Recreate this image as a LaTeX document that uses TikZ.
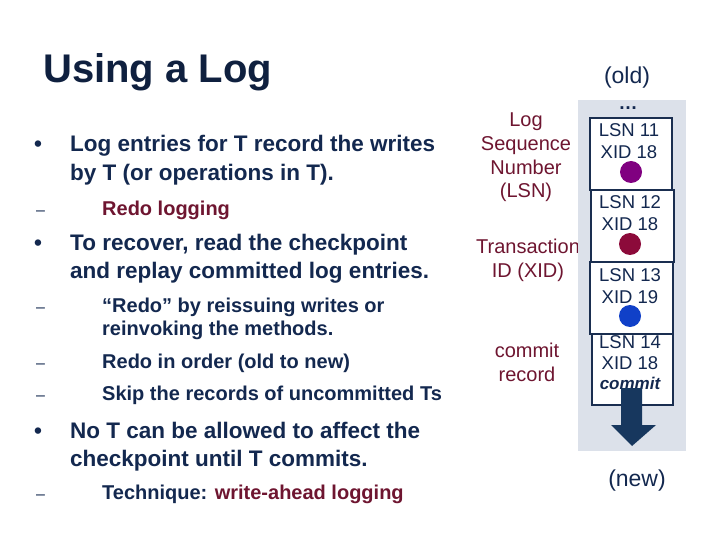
\documentclass[tikz,border=0pt]{standalone}
\usepackage{fontspec}
\setmainfont{Liberation Sans}
\definecolor{navy}{HTML}{13284F}
\definecolor{maroon}{HTML}{6E1530}
\definecolor{colbg}{HTML}{DCE1EA}
\definecolor{boxline}{HTML}{1A2E50}
\definecolor{arrowc}{HTML}{17375E}
\begin{document}
\begin{tikzpicture}[x=1pt,y=-1pt,
  main/.style={anchor=base west,inner sep=0,text=navy,font=\bfseries\fontsize{22.5}{25}\selectfont},
  sub/.style={anchor=base west,inner sep=0,text=navy,font=\bfseries\fontsize{20}{22}\selectfont},
  dsh/.style={anchor=base west,inner sep=0,text=navy,font=\fontsize{16}{18}\selectfont},
  lbl/.style={anchor=base,inner sep=0,text=maroon,font=\fontsize{20}{22}\selectfont},
  bx/.style={anchor=base,inner sep=0,text=navy,font=\fontsize{18.5}{20}\selectfont},
  rec/.style={draw=boxline,line width=1.5pt,fill=white},
  dot/.style={circle,minimum size=22pt,inner sep=0}]
\useasboundingbox (0,0) rectangle (720,540);
\node[anchor=base west,inner sep=0,text=navy!80!black,font=\bfseries\fontsize{40}{44}\selectfont] (title) at (43,83) {Using a Log};
% bullets
\node[main] (b1) at (34,152) {\textbullet};
\node[main] (t1a) at (70,152) {Log entries for T record the writes};
\node[main] (t1b) at (70,181) {by T (or operations in T).};
\node[dsh] (d1) at (36,215) {--};
\node[sub,text=maroon] (s1) at (102,215) {Redo logging};
\node[main] (b2) at (34,251) {\textbullet};
\node[main] (t2a) at (70,251) {To recover, read the checkpoint};
\node[main] (t2b) at (70,278) {and replay committed log entries.};
\node[dsh] (d2) at (36,312) {--};
\node[sub] (s2a) at (102,312) {“Redo” by reissuing writes or};
\node[sub] (s2b) at (102,335) {reinvoking the methods.};
\node[dsh] (d3) at (36,368) {--};
\node[sub] (s3) at (102,368) {Redo in order (old to new)};
\node[dsh] (d4) at (36,400) {--};
\node[sub] (s4) at (102,400) {Skip the records of uncommitted Ts};
\node[main] (b3) at (34,438) {\textbullet};
\node[main] (t3a) at (70,438) {No T can be allowed to affect the};
\node[main] (t3b) at (70,466) {checkpoint until T commits.};
\node[dsh] (d5) at (36,499) {--};
\node[sub] (s5) at (102,499) {Technique: \textcolor{maroon}{write-ahead logging}};
% labels
\node[lbl] (l1) at (526,127) {Log};
\node[lbl] (l2) at (526,151) {Sequence};
\node[lbl] (l3) at (526,175) {Number};
\node[lbl] (l4) at (526,198) {(LSN)};
\node[lbl] (l5) at (528,253) {Transaction};
\node[lbl] (l6) at (528,277) {ID (XID)};
\node[lbl] (l7) at (527,357) {commit};
\node[lbl] (l8) at (527,381) {record};
% log column
\fill[colbg] (578,100) rectangle (686,451);
\node[anchor=base,inner sep=0,text=navy,font=\fontsize{23}{26}\selectfont] (old) at (627,84) {(old)};
\node[anchor=base,inner sep=0,text=navy,font=\bfseries\fontsize{19}{20}\selectfont] (dots) at (628,110) {\dots};
\draw[rec] (590,118) rectangle (672,190);
\draw[rec] (591,190) rectangle (674,262);
\draw[rec] (590,262) rectangle (673,334);
\draw[rec] (592,334) rectangle (673,405);
\node[bx] (a1) at (629,137) {LSN 11};
\node[bx] (a2) at (629,159) {XID 18};
\node[dot,fill={rgb,255:red,128;green,0;blue,128}] (c1) at (631,172) {};
\node[bx] (b1x) at (630,209) {LSN 12};
\node[bx] (b2x) at (630,230) {XID 18};
\node[dot,fill={rgb,255:red,140;green,10;blue,58}] (c2) at (630,244) {};
\node[bx] (e1) at (630,281) {LSN 13};
\node[bx] (e2) at (630,303) {XID 19};
\node[dot,fill={rgb,255:red,16;green,64;blue,200}] (c3) at (630,316) {};
\node[bx] (f1) at (630,348) {LSN 14};
\node[bx] (f2) at (630,369) {XID 18};
\node[bx,font=\bfseries\itshape\fontsize{17}{18}\selectfont] (f3) at (630,389) {commit};
% arrow
\fill[arrowc] (621,388) -- (642,388) -- (642,425) -- (656,425) -- (632,446) -- (611,425) -- (621,425) -- cycle;
\node[anchor=base,inner sep=0,text=navy,font=\fontsize{23}{26}\selectfont] (new) at (637,486) {(new)};
\end{tikzpicture}
\end{document}
